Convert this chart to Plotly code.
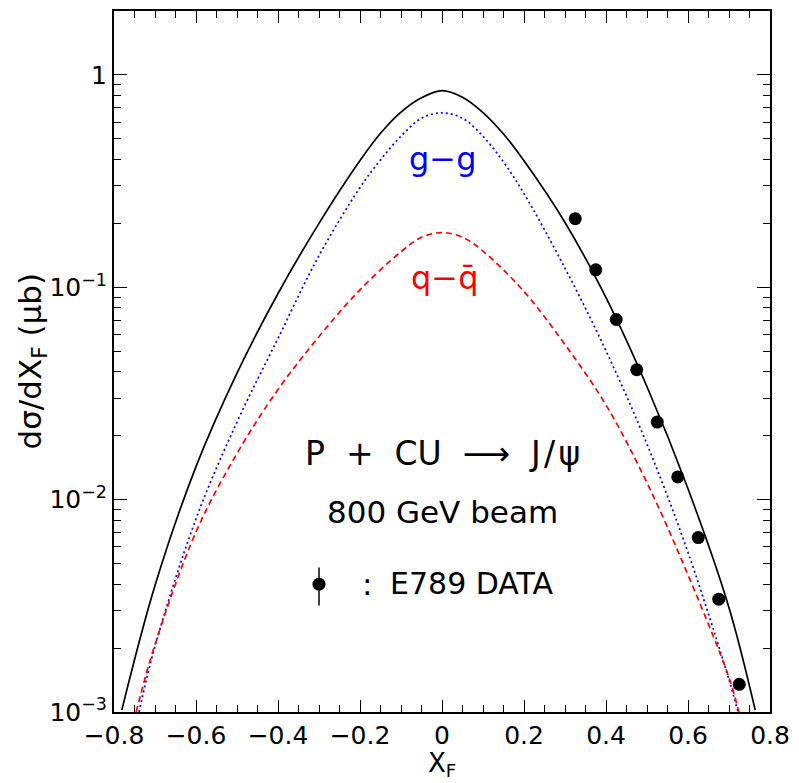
import plotly.graph_objects as go
import math

# ---- data ----
tot_x = [-0.781, -0.7, -0.6, -0.5, -0.4, -0.3, -0.2, -0.15, -0.1, -0.05, 0.0,
         0.05, 0.1, 0.15, 0.2, 0.3, 0.4, 0.5, 0.6, 0.7, 0.764]
tot_y = [0.00102, 0.00394, 0.0143, 0.0394, 0.0935, 0.200, 0.395, 0.531, 0.668, 0.78, 0.843,
         0.785, 0.665, 0.527, 0.394, 0.202, 0.0893, 0.0340, 0.01125, 0.0031, 0.00102]

gg_x = [-0.739, -0.7, -0.6, -0.5, -0.4, -0.3, -0.2, -0.15, -0.1, -0.05, 0.0,
        0.05, 0.1, 0.15, 0.2, 0.3, 0.4, 0.5, 0.6, 0.7, 0.722]
gg_y = [0.001, 0.00204, 0.00813, 0.0232, 0.0575, 0.141, 0.295, 0.398, 0.515, 0.625, 0.662,
        0.625, 0.514, 0.389, 0.276, 0.123, 0.0502, 0.01824, 0.00564, 0.00142, 0.001]

qq_x = [-0.746, -0.7, -0.6, -0.5, -0.4, -0.3, -0.2, -0.1, -0.05, 0.0,
        0.05, 0.1, 0.2, 0.3, 0.4, 0.5, 0.6, 0.7, 0.724]
qq_y = [0.001, 0.00208, 0.00705, 0.0165, 0.033, 0.0586, 0.0973, 0.147, 0.172, 0.181,
        0.172, 0.148, 0.0955, 0.0537, 0.0279, 0.0120, 0.00442, 0.00145, 0.001]

data_x = [0.325, 0.375, 0.425, 0.475, 0.525, 0.575, 0.625, 0.675, 0.725]
data_y = [0.2105, 0.1209, 0.0705, 0.0409, 0.0232, 0.0128, 0.00663, 0.00340, 0.00135]

y_tickvals = [0.001, 0.01, 0.1, 1]
y_ticktext = ["10<sup>\u22123</sup>", "10<sup>\u22122</sup>", "10<sup>\u22121</sup>", "1"]
x_tickvals = [-0.8, -0.6, -0.4, -0.2, 0.0, 0.2, 0.4, 0.6, 0.8]
x_ticktext = ["\u22120.8", "\u22120.6", "\u22120.4", "\u22120.2", "0", "0.2", "0.4", "0.6", "0.8"]

# legend key (data-point symbol with error bar)
key_x, key_y, key_lo, key_hi = -0.30, 0.0040, 0.00317, 0.00479

FONT = "DejaVu Sans"
NB = "\u00a0"
HS = "\u200a"

fig = go.Figure()
fig.add_trace(go.Scatter(x=tot_x, y=tot_y, mode="lines", line=dict(color="black", width=1.7, shape="spline"),
                         showlegend=False, hoverinfo="skip"))
fig.add_trace(go.Scatter(x=gg_x, y=gg_y, mode="lines", line=dict(color="#0000ff", width=1.7, dash="2px,3px", shape="spline"),
                         showlegend=False, hoverinfo="skip"))
fig.add_trace(go.Scatter(x=qq_x, y=qq_y, mode="lines", line=dict(color="#ff0000", width=1.7, dash="6px,4px", shape="spline"),
                         showlegend=False, hoverinfo="skip"))
fig.add_trace(go.Scatter(x=data_x, y=data_y, mode="markers", marker=dict(color="black", size=13),
                         showlegend=False, hoverinfo="skip"))
fig.add_trace(go.Scatter(x=[key_x], y=[key_y], mode="markers", marker=dict(color="black", size=13),
                         error_y=dict(type="data", symmetric=False, array=[key_hi - key_y], arrayminus=[key_y - key_lo],
                                      color="black", thickness=1.5, width=0),
                         showlegend=False, hoverinfo="skip"))

ann = []
def add(text, x, y, size, color="black", xanchor="center"):
    ann.append(dict(text=text, x=x, y=y, xref="x", yref="y", showarrow=False,
                    font=dict(family=FONT, size=size, color=color), xanchor=xanchor, yanchor="middle"))

add("g\u2212g", 0.0, -0.3965, 32, "#0000ff")
add("q\u2212q\u0304", 0.007, -0.957, 32, "#ff0000")
add("P" + NB * 2 + "+" + NB * 2 + "CU" + NB * 2 + "\u27f6" + NB * 2 + "J" + HS + "/" + HS + "\u03c8", 0.0, -1.781, 33)
add("800 GeV beam", 0.0, -2.058, 31)
add(":", -0.184, -2.396, 31, xanchor="center")
add("E789 DATA", -0.131, -2.396, 30, xanchor="left")

ann.append(dict(text="d\u03c3/dX<sub>F</sub> (\u03bcb)", x=-0.125, y=0.5, xref="paper", yref="paper",
                textangle=-90, showarrow=False, font=dict(family=FONT, size=31, color="black"),
                xanchor="center", yanchor="middle"))
ann.append(dict(text="X<sub>F</sub>", x=0.5, y=-0.1, xref="paper", yref="paper",
                showarrow=False, font=dict(family=FONT, size=26, color="black"),
                xanchor="center", yanchor="bottom", borderpad=0))

fig.update_layout(
    width=799, height=783,
    margin=dict(l=114, r=25, t=9, b=71),
    paper_bgcolor="white", plot_bgcolor="white",
    annotations=ann,
    xaxis=dict(range=[-0.8, 0.8], tickmode="array", tickvals=x_tickvals, ticktext=x_ticktext,
               ticks="inside", ticklen=12, tickwidth=1.2, tickcolor="black", mirror="allticks",
               showline=True, linecolor="black", linewidth=2, showgrid=False, zeroline=False,
               tickfont=dict(family=FONT, size=25, color="black"),
               minor=dict(dtick=0.05, ticks="inside", ticklen=7, tickcolor="black", tickwidth=1.2, showgrid=False)),
    yaxis=dict(type="log", range=[-3, math.log10(2.0)], tickmode="array", tickvals=y_tickvals, ticktext=y_ticktext,
               ticks="inside", ticklen=13, tickwidth=1.2, tickcolor="black", mirror="allticks",
               showline=True, linecolor="black", linewidth=2, showgrid=False, zeroline=False,
               tickfont=dict(family=FONT, size=25, color="black"),
               minor=dict(dtick="D1", ticks="inside", ticklen=7, tickcolor="black", tickwidth=1.2, showgrid=False)),
)

fig.write_html("out.html", config={"displayModeBar": False},
               post_script="document.body.style.margin='0px';document.body.style.overflow='hidden';")
